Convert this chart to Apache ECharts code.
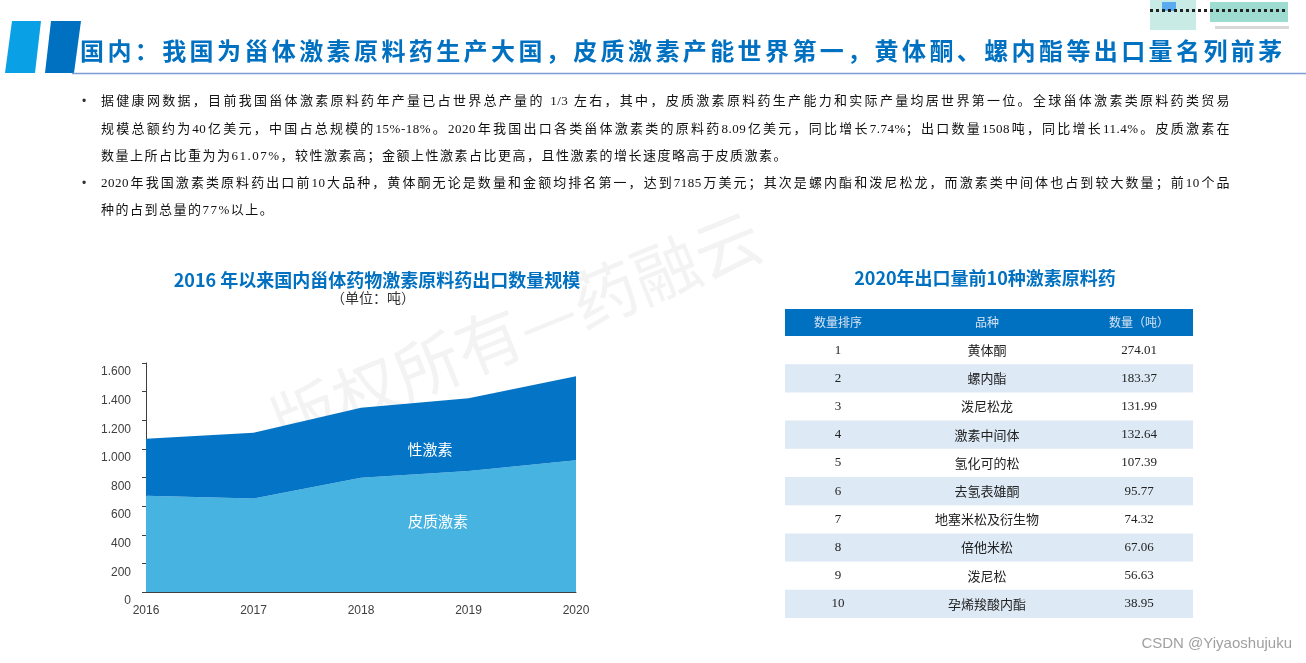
<!DOCTYPE html>
<html><head><meta charset="utf-8">
<script src="https://cdn.jsdelivr.net/npm/echarts@6/dist/echarts.min.js"></script>
<style>
html,body{margin:0;padding:0;width:1306px;height:663px;overflow:hidden;background:#fff;}
#chart{position:absolute;left:0;top:0;width:1306px;height:663px;}
.ov{position:absolute;pointer-events:none;white-space:nowrap;}
#head{left:80px;top:34px;font-family:"Noto Sans CJK SC";font-weight:bold;font-size:24px;color:#0070c0;letter-spacing:3.4px;line-height:32px;}
.ln{position:absolute;left:101px;font-family:"Liberation Serif","Noto Sans CJK SC";font-size:13px;color:#111;line-height:18px;white-space:nowrap;letter-spacing:1.5px;}
.jt{width:1129px;white-space:normal;text-align:justify;text-align-last:justify;letter-spacing:0.5px;}
.bl{position:absolute;left:82px;font-family:"Liberation Sans";font-size:12px;color:#333;line-height:18px;}
</style></head>
<body>
<div id="chart"></div>
<div id="head" class="ov">国内：我国为甾体激素原料药生产大国，皮质激素产能世界第一，黄体酮、螺内酯等出口量名列前茅</div>
<div class="ov" style="left:0;top:0;width:1306px;height:240px;">
  <div class="bl" style="top:92px">•</div>
  <div class="ln jt" style="top:92px">据健康网数据，目前我国甾体激素原料药年产量已占世界总产量的 1/3 左右，其中，皮质激素原料药生产能力和实际产量均居世界第一位。全球甾体激素类原料药类贸易</div>
  <div class="ln jt" style="top:120px">规模总额约为40亿美元，中国占总规模的15%-18%。2020年我国出口各类甾体激素类的原料药8.09亿美元，同比增长7.74%；出口数量1508吨，同比增长11.4%。皮质激素在</div>
  <div class="ln" style="top:147px">数量上所占比重为为61.07%，较性激素高；金额上性激素占比更高，且性激素的增长速度略高于皮质激素。</div>
  <div class="bl" style="top:174px">•</div>
  <div class="ln jt" style="top:174px">2020年我国激素类原料药出口前10大品种，黄体酮无论是数量和金额均排名第一，达到7185万美元；其次是螺内酯和泼尼松龙，而激素类中间体也占到较大数量；前10个品</div>
  <div class="ln" style="top:201px">种的占到总量的77%以上。</div>
</div>
<script>
// ---- data ----
const years = ['2016', '2017', '2018', '2019', '2020'];
const corticoid = [672, 653, 798, 845, 921];      // 皮质激素 (吨)
const sexHormone = [399, 460, 490, 509, 587];     // 性激素 (吨)
const seriesNames = ['皮质激素', '性激素'];
const tableHeaders = ['数量排序', '品种', '数量（吨）'];
const ranks = [1, 2, 3, 4, 5, 6, 7, 8, 9, 10];
const drugNames = ['黄体酮', '螺内酯', '泼尼松龙', '激素中间体', '氢化可的松', '去氢表雄酮', '地塞米松及衍生物', '倍他米松', '泼尼松', '孕烯羧酸内酯'];
const drugQty = [274.01, 183.37, 131.99, 132.64, 107.39, 95.77, 74.32, 67.06, 56.63, 38.95];

const chart = echarts.init(document.getElementById('chart'));

const serif = '"Liberation Serif","Noto Sans CJK SC"';
const tbl = { x: 785, w: 408, top: 309, headH: 27, rowH: 28.2, cols: [838, 987, 1139] };
const g = [];
// header bars
g.push({ type: 'polygon', shape: { points: [[12, 21], [41, 21], [35, 73], [5, 73]] }, style: { fill: '#0aa0e6' } });
g.push({ type: 'polygon', shape: { points: [[51, 21], [81, 21], [74, 73], [45, 73]] }, style: { fill: '#0070c0' } });
g.push({ type: 'line', shape: { x1: 72, y1: 73.5, x2: 1306, y2: 73.5 }, style: { stroke: '#7d9bd6', lineWidth: 1.5 } });
// qr fragment (decoration)
g.push({ type: 'rect', shape: { x: 1150, y: 0, width: 46, height: 30 }, style: { fill: '#c8ebe6' } });
g.push({ type: 'rect', shape: { x: 1162, y: 2, width: 14, height: 9 }, style: { fill: '#5aaaf0' } });
g.push({ type: 'rect', shape: { x: 1210, y: 2, width: 78, height: 20 }, style: { fill: '#9edcd2' } });
for (let i = 0; i < 23; i++) {
  g.push({ type: 'rect', shape: { x: 1150 + i * 6, y: 9, width: 3, height: 3 }, style: { fill: '#222' } });
}
g.push({ type: 'rect', shape: { x: 1215, y: 26, width: 74, height: 3 }, style: { fill: '#d8d8d8' } });
// watermark
g.push({ type: 'text', z: 0, x: 516, y: 330, rotation: 22 * Math.PI / 180,
  style: { text: '版权所有—药融云', font: '66px "Noto Sans CJK SC"', fill: '#f3f3f3', textAlign: 'center', textVerticalAlign: 'middle' } });
// chart titles
g.push({ type: 'text', style: { text: '2016 年以来国内甾体药物激素原料药出口数量规模', x: 377, y: 280, font: 'bold 18px "Noto Sans CJK SC"', fill: '#0070c0', textAlign: 'center', textVerticalAlign: 'middle' } });
g.push({ type: 'text', style: { text: '（单位：吨）', x: 373, y: 298, font: '14px "Noto Sans CJK SC"', fill: '#333', textAlign: 'center', textVerticalAlign: 'middle' } });
g.push({ type: 'text', style: { text: '2020年出口量前10种激素原料药', x: 985, y: 278, font: 'bold 18px "Noto Sans CJK SC"', fill: '#0070c0', textAlign: 'center', textVerticalAlign: 'middle' } });
// area labels
g.push({ type: 'text', z: 10, style: { text: seriesNames[1], x: 430, y: 449, font: '15px "Noto Sans CJK SC"', fill: '#ffffff', textAlign: 'center', textVerticalAlign: 'middle' } });
g.push({ type: 'text', z: 10, style: { text: seriesNames[0], x: 438, y: 521, font: '15px "Noto Sans CJK SC"', fill: '#ffffff', textAlign: 'center', textVerticalAlign: 'middle' } });
// table
g.push({ type: 'rect', shape: { x: tbl.x, y: tbl.top, width: tbl.w, height: tbl.headH }, style: { fill: '#0070c0' } });
tableHeaders.forEach((h, c) => {
  g.push({ type: 'text', style: { text: h, x: tbl.cols[c], y: tbl.top + tbl.headH / 2, font: '12px "Noto Sans CJK SC"', fill: '#d6e3f3', textAlign: 'center', textVerticalAlign: 'middle' } });
});
ranks.forEach((r, i) => {
  const y0 = tbl.top + tbl.headH + i * tbl.rowH;
  if (i % 2 === 1) g.push({ type: 'rect', shape: { x: tbl.x, y: y0, width: tbl.w, height: tbl.rowH }, style: { fill: '#dde9f5' } });
  const cy = y0 + tbl.rowH / 2;
  g.push({ type: 'text', style: { text: String(r), x: tbl.cols[0], y: cy, font: '13px ' + serif, fill: '#222', textAlign: 'center', textVerticalAlign: 'middle' } });
  g.push({ type: 'text', style: { text: drugNames[i], x: tbl.cols[1], y: cy, font: '13px "Noto Sans CJK SC"', fill: '#222', textAlign: 'center', textVerticalAlign: 'middle' } });
  g.push({ type: 'text', style: { text: drugQty[i].toFixed(2), x: tbl.cols[2], y: cy, font: '13px ' + serif, fill: '#222', textAlign: 'center', textVerticalAlign: 'middle' } });
});
// csdn mark
g.push({ type: 'text', style: { text: 'CSDN @Yiyaoshujuku', x: 1292, y: 644, font: '15px "Liberation Sans"', fill: '#a0a0a0', textAlign: 'right', textVerticalAlign: 'middle' } });

function fmt(v) {
  return v >= 1000 ? Math.floor(v / 1000) + '.' + String(v % 1000).padStart(3, '0') : String(v);
}

chart.setOption({
  animation: false,
  backgroundColor: 'transparent',
  grid: { left: 146, right: 730, top: 363, bottom: 71 },
  xAxis: {
    type: 'category', boundaryGap: false, data: years,
    axisLine: { lineStyle: { color: '#404040', width: 1 } },
    axisTick: { show: false },
    axisLabel: { color: '#404040', fontSize: 12, fontFamily: 'Liberation Sans', margin: 13 }
  },
  yAxis: {
    type: 'value', min: 0, max: 1600, interval: 200,
    axisLine: { show: true, lineStyle: { color: '#404040', width: 1 } },
    axisTick: { show: true, length: 4, lineStyle: { color: '#404040' } },
    splitLine: { show: false },
    axisLabel: { color: '#404040', fontSize: 12, fontFamily: 'Liberation Sans', margin: 15, verticalAlign: 'top', padding: [3, 0, 0, 0], formatter: fmt }
  },
  series: [
    { name: seriesNames[0], type: 'line', stack: 'total', data: corticoid, symbol: 'none', lineStyle: { width: 0 }, areaStyle: { color: '#47b3e1', opacity: 1 }, z: 2 },
    { name: seriesNames[1], type: 'line', stack: 'total', data: sexHormone, symbol: 'none', lineStyle: { width: 0 }, areaStyle: { color: '#0475c6', opacity: 1 }, z: 2 }
  ],
  graphic: { elements: g }
});
</script>
</body></html>
